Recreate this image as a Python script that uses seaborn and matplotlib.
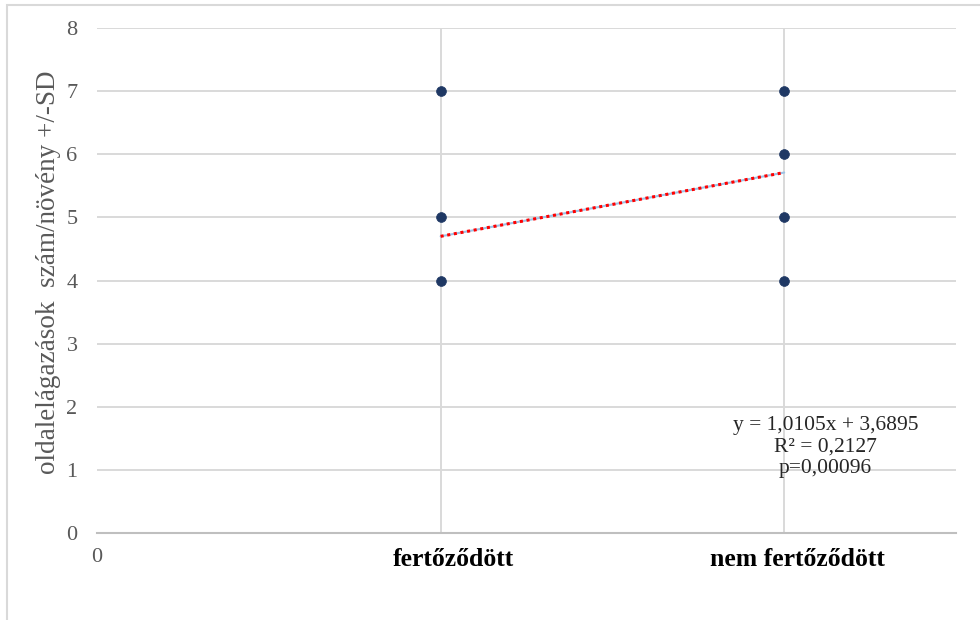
import matplotlib.pyplot as plt
import matplotlib.patches as mpatches
import matplotlib.transforms as mtransforms
import numpy as np
import pandas as pd
import seaborn as sns

# values
groups = ["fertőződött", "nem fertőződött"]
group_x = [1, 2]
pts_x = [1, 1, 1, 2, 2, 2, 2]
pts_y = [4, 5, 7, 4, 5, 6, 7]
slope = 1.0105
intercept = 3.6895
r2_text = "0,2127"
p_text = "0,00096"

df = pd.DataFrame({"x": pts_x, "y": pts_y})

sns.set_style("white")
plt.rcParams["font.family"] = ["Liberation Serif", "DejaVu Serif"]

fig = plt.figure(figsize=(9.8, 6.2), dpi=100)
ax = fig.add_axes([0.099, 0.1403, 0.8765, 0.8145])

# outer chart border (Excel chart area)
fig.patches.append(mpatches.Rectangle((7 / 980, -0.1), 1.2, 1 - 5 / 620 + 0.1,
                                      transform=fig.transFigure, fill=False,
                                      edgecolor="#d9d9d9", linewidth=1.5))

# grid
for yv in range(1, 9):
    ax.axhline(yv, color="#d9d9d9", linewidth=1.4, zorder=0)
for xv in group_x:
    ax.axvline(xv, color="#d9d9d9", linewidth=1.4, zorder=0)

# trendline
tx = np.array(group_x, dtype=float)
ty = slope * tx + intercept
ax.plot(tx, ty, color="#9dc3e6", linewidth=1.5, zorder=2)
ax.plot(tx, ty, color="#ff0000", linewidth=2.2, linestyle=(0, (1, 1.2)), zorder=3)

sns.scatterplot(data=df, x="x", y="y", ax=ax, color="#1f3864", s=50,
                edgecolor="#1f3864", linewidth=0.5, zorder=4)

ax.set_xlim(0, 2.5)
ax.set_ylim(0, 8)
ax.set_yticks(range(0, 9))
ax.set_xticks([0])
ax.set_xticklabels(["0"])
ax.tick_params(axis="x", length=0, pad=11, labelsize=16, labelcolor="#595959")
ax.tick_params(axis="y", labelsize=16, length=0, pad=14, labelcolor="#595959")

# category names sit a little right of their gridlines, as in Excel
shift = mtransforms.ScaledTranslation(13 / 100, -15 / 100, fig.dpi_scale_trans)
for xv, name in zip(group_x, groups):
    ax.text(xv, 0, name, transform=ax.get_xaxis_transform() + shift,
            ha="center", va="top", fontsize=18.5, fontweight="bold", color="black")

for s in ["top", "right", "left"]:
    ax.spines[s].set_visible(False)
ax.spines["bottom"].set_color("#bfbfbf")
ax.spines["bottom"].set_linewidth(1.5)

ax.set_xlabel("")
ax.set_ylabel("oldalelágazások  szám/növény +/-SD", fontsize=19.5, color="#595959")
ax.yaxis.set_label_coords(-0.042, 0.517)

ax.text(2.12, 1.86, f"y = {slope:.4f}x + {intercept:.4f}".replace(".", ",")
        + f"\nR² = {r2_text}\np={p_text}",
        ha="center", va="top", fontsize=15.5, color="#262626", linespacing=1.2)

fig.savefig("out.png", dpi=100)
